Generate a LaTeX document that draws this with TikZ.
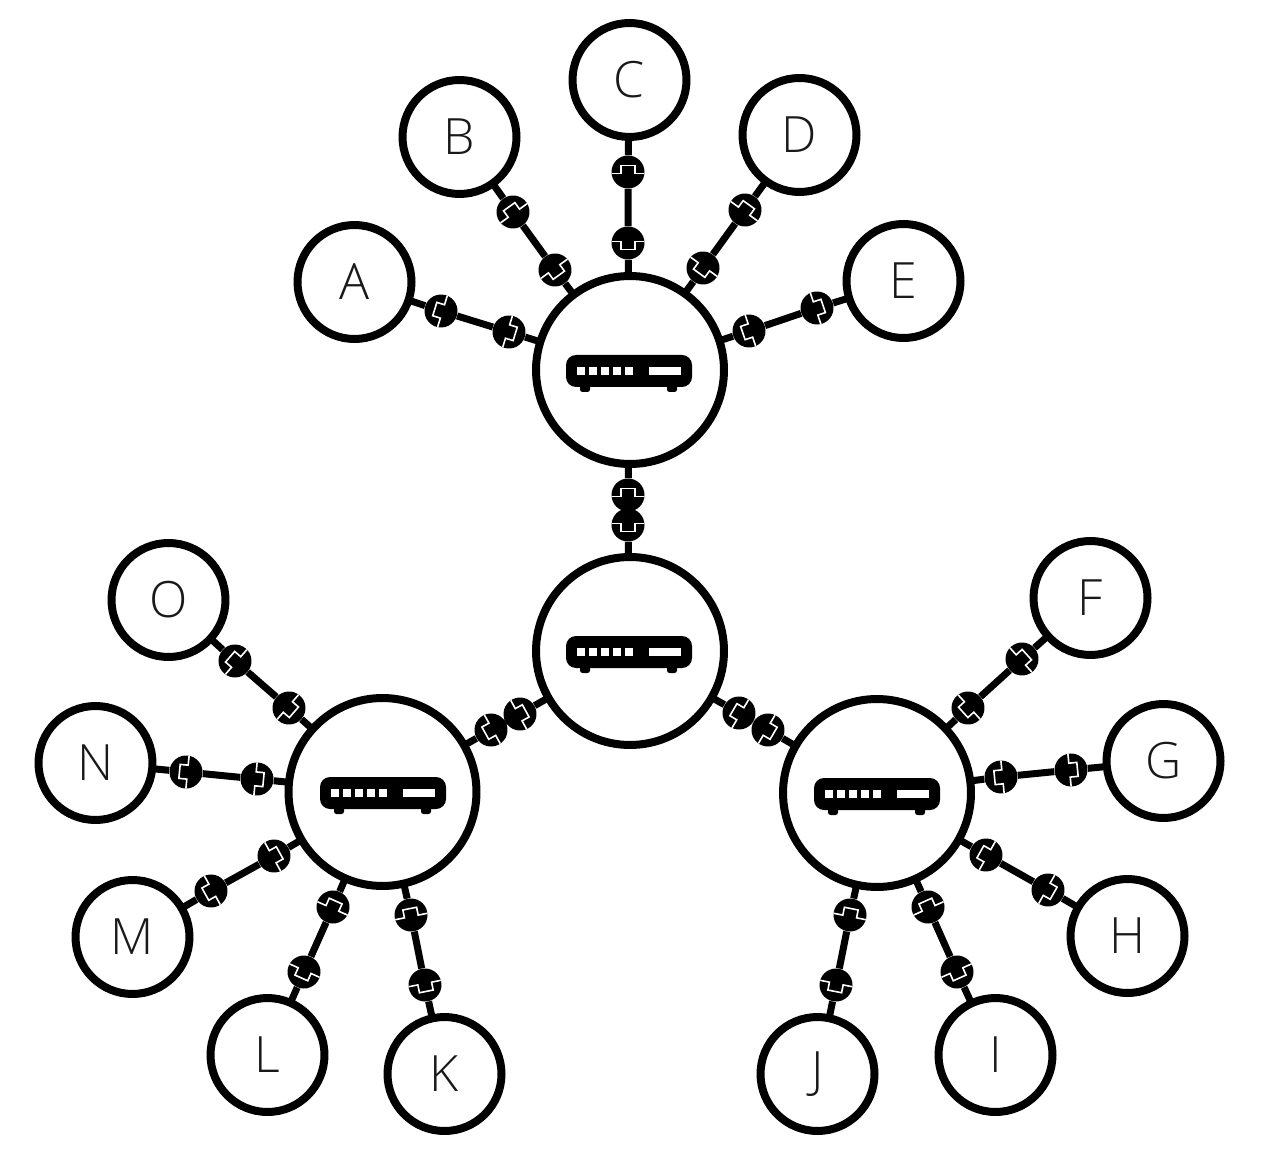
\documentclass[tikz,border=0pt]{standalone}
\usepackage{fontspec}
\setmainfont{Open Sans}[UprightFont=* Light]
\definecolor{lettergray}{gray}{0.1}
\tikzset{
  client/.style={circle,draw=black,line width=0.16cm,fill=white,minimum size=2.28cm,inner sep=0pt,outer sep=0pt,
    text=lettergray,font=\fontsize{28.5}{28.5}\selectfont},
  hub/.style={circle,draw=black,line width=0.16cm,fill=white,minimum size=3.76cm,inner sep=0pt,outer sep=0pt},
  plug/.style={circle,fill=black,minimum size=0.66cm,inner sep=0pt,rotate=#1,
    path picture={\draw[white,line width=0.032cm]
      (-18,-1.5) -- (-7,-1.5) -- (-7,6.5) -- (7,6.5) -- (7,-1.5) -- (18,-1.5);}},
  link/.style={draw=black,line width=0.14cm},
  router/.pic={
    \fill[black,rounded corners=0.2cm] (-63,-15) rectangle (63,17);
    \fill[black,rounded corners=0.05cm] (-49,12) rectangle (-39,22);
    \fill[black,rounded corners=0.05cm] (38,12) rectangle (48,22);
    \foreach \sx in {-52,-40,-28,-16,-4}
      \fill[white] (\sx,-3) rectangle +(8,8);
    \fill[white] (20,-3) rectangle (52,5);
  }
}
\begin{document}
\begin{tikzpicture}[x=0.02cm,y=0.02cm]
\useasboundingbox (0,0) rectangle (1280,-1168);
% hubs
\node [hub] (rtop) at (630,-370) {};
\node [hub] (rmid) at (630,-651) {};
\node [hub] (rleft) at (382.5,-792) {};
\node [hub] (rright) at (877,-793) {};
\pic [yscale=-1] at (629,-370) {router};
\pic [yscale=-1] at (629,-651) {router};
\pic [yscale=-1] at (383,-792) {router};
\pic [yscale=-1] at (877,-793) {router};
% clients
\node [client] (A) at (354.5,-282) {A};
\node [client] (B) at (459.5,-137) {B};
\node [client] (C) at (629.5,-80) {C};
\node [client] (D) at (799.5,-135) {D};
\node [client] (E) at (903.5,-281) {E};
\node [client] (F) at (1090.5,-598) {F};
\node [client] (G) at (1163.5,-761) {G};
\node [client] (H) at (1127.5,-936) {H};
\node [client] (I) at (995.5,-1055) {I};
\node [client] (J) at (817.5,-1074) {J};
\node [client] (K) at (444.5,-1074) {K};
\node [client] (L) at (267.5,-1055) {L};
\node [client] (M) at (132.5,-937) {M};
\node [client] (N) at (95.5,-763) {N};
\node [client] (O) at (168.5,-600) {O};
% plugs
\node [plug=72.8] (a1) at (441,-311) {};
\node [plug=252.8] (a2) at (509,-332) {};
\node [plug=35.9] (b1) at (513,-212) {};
\node [plug=215.9] (b2) at (555,-270) {};
\node [plug=0] (c1) at (628,-172) {};
\node [plug=180] (c2) at (628,-243) {};
\node [plug=-35.9] (d1) at (745,-210) {};
\node [plug=144.1] (d2) at (703,-268) {};
\node [plug=-71.3] (e1) at (817,-308) {};
\node [plug=108.7] (e2) at (749,-331) {};
\node [plug=0] (t1) at (628,-495) {};
\node [plug=180] (t2) at (628,-525) {};
\node [plug=118.9] (u1) at (491,-730) {};
\node [plug=298.9] (u2) at (520,-714) {};
\node [plug=-120.4] (v1) at (768,-730) {};
\node [plug=59.6] (v2) at (739,-713) {};
\node [plug=-47.8] (f1) at (1022,-659) {};
\node [plug=132.2] (f2) at (968,-708) {};
\node [plug=-84.3] (g1) at (1071,-770) {};
\node [plug=95.7] (g2) at (1001,-777) {};
\node [plug=-119.4] (h1) at (1048,-890) {};
\node [plug=60.6] (h2) at (986,-855) {};
\node [plug=-156] (i1) at (957,-972) {};
\node [plug=24] (i2) at (928,-907) {};
\node [plug=168.7] (j1) at (836,-985) {};
\node [plug=-11.3] (j2) at (850,-915) {};
\node [plug=-168.7] (k1) at (425,-985) {};
\node [plug=11.3] (k2) at (411,-915) {};
\node [plug=156] (l1) at (304,-972) {};
\node [plug=-24] (l2) at (333,-907) {};
\node [plug=119] (m1) at (211,-891) {};
\node [plug=-61] (m2) at (274,-856) {};
\node [plug=84.4] (n1) at (186,-772) {};
\node [plug=-95.6] (n2) at (257,-779) {};
\node [plug=49] (o1) at (235,-661) {};
\node [plug=-131] (o2) at (289,-708) {};
% links
\draw [link] (A) -- (a1) -- (a2) -- (rtop);
\draw [link] (B) -- (b1) -- (b2) -- (rtop);
\draw [link] (C) -- (c1) -- (c2) -- (rtop);
\draw [link] (D) -- (d1) -- (d2) -- (rtop);
\draw [link] (E) -- (e1) -- (e2) -- (rtop);
\draw [link] (rtop) -- (t1) -- (t2) -- (rmid);
\draw [link] (rleft) -- (u1) -- (u2) -- (rmid);
\draw [link] (rright) -- (v1) -- (v2) -- (rmid);
\draw [link] (F) -- (f1) -- (f2) -- (rright);
\draw [link] (G) -- (g1) -- (g2) -- (rright);
\draw [link] (H) -- (h1) -- (h2) -- (rright);
\draw [link] (I) -- (i1) -- (i2) -- (rright);
\draw [link] (J) -- (j1) -- (j2) -- (rright);
\draw [link] (K) -- (k1) -- (k2) -- (rleft);
\draw [link] (L) -- (l1) -- (l2) -- (rleft);
\draw [link] (M) -- (m1) -- (m2) -- (rleft);
\draw [link] (N) -- (n1) -- (n2) -- (rleft);
\draw [link] (O) -- (o1) -- (o2) -- (rleft);
\end{tikzpicture}
\end{document}
